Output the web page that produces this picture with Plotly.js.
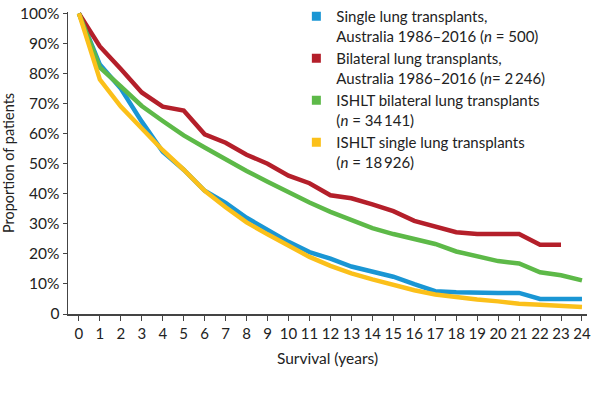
<!DOCTYPE html>
<html>
<head>
<meta charset="utf-8">
<script src="https://cdn.plot.ly/plotly-3.0.1.min.js"></script>
<style>
  html, body { margin: 0; padding: 0; background: #fff; }
  #plot { width: 600px; height: 407px; }
</style>
</head>
<body>
<div id="plot"></div>
<script>
// survival in years
var years = [0, 1, 2, 3, 4, 5, 6, 7, 8, 9, 10, 11, 12, 13, 14, 15, 16, 17, 18, 19, 20, 21, 22, 23, 24];

// proportion of patients alive, %
var single_aus = [100, 83, 75, 64, 54, 48, 41, 37, 32, 28, 24, 20.6, 18.4, 15.8, 14, 12.4, 9.9, 7.6, 7.2, 7, 7, 7, 5, 5, 5];
var bilateral_aus = [100, 89, 81.5, 73.7, 69, 67.7, 59.8, 57, 53, 50, 46, 43.5, 39.5, 38.5, 36.5, 34.2, 31, 29, 27.2, 26.6, 26.6, 26.6, 23, 23];
var ishlt_bilateral = [100, 82, 75.7, 69.2, 64.2, 59.4, 55.4, 51.4, 47.6, 44, 40.5, 37.1, 34, 31.1, 28.6, 26.6, 24.8, 23.3, 20.8, 19.2, 17.6, 16.8, 13.9, 12.9, 11.2];
var ishlt_single = [100, 78, 69, 61.5, 54.5, 48, 41, 35.5, 30.5, 26.5, 22.6, 19, 16, 13.5, 11.5, 9.6, 7.9, 6.5, 5.6, 4.8, 4.2, 3.4, 3.1, 2.8, 2.3];

var names = [
   'Single lung transplants,<br>Australia 1986\u20132016 (<i>n</i> = 500)',
   'Bilateral lung transplants,<br>Australia 1986\u20132016 (<i>n</i>= 2\u2009246)',
   'ISHLT bilateral lung transplants<br>(<i>n</i> = 34\u2009141)',
   'ISHLT single lung transplants<br>(<i>n</i> = 18\u2009926)'
];
var colours = ['#1a96d4', '#b41f2a', '#5db948', '#fbc01a'];
var series = [single_aus, bilateral_aus, ishlt_bilateral, ishlt_single];

var fontFamily = 'Lato, "Open Sans", sans-serif';

var traces = [];
// the curves themselves
for (var i = 0; i < series.length; i++) {
   traces.push({
      x: years.slice(0, series[i].length),
      y: series[i],
      mode: 'lines',
      line: {width: 4.5, color: colours[i]},
      showlegend: false,
      hoverinfo: 'x+y'
   });
}
// legend entries with square keys
for (var j = 0; j < series.length; j++) {
   traces.push({
      name: names[j],
      x: [null],
      y: [null],
      mode: 'markers',
      marker: {symbol: 'square', size: 9, color: colours[j]},
      showlegend: true
   });
}

var layout = {
   width: 600,
   height: 407,
   // top margin is zero so the legend can sit above the plot area;
   // the y domain leaves the 12px gap instead
   margin: {l: 68, r: 13, t: 0, b: 93},
   paper_bgcolor: '#fff',
   plot_bgcolor: '#fff',
   font: {family: fontFamily, size: 15, color: '#222'},
   showlegend: true,
   legend: {
      x: 0.44,
      y: 1,
      xanchor: 'left',
      yanchor: 'top',
      valign: 'top',
      bgcolor: 'rgba(0,0,0,0)',
      font: {family: fontFamily, size: 15, color: '#222'},
      tracegroupgap: 0
   },
   xaxis: {
      range: [-0.52, 24.24],
      tickvals: years,
      ticktext: years.map(String),
      showgrid: false,
      zeroline: false,
      showline: true,
      linecolor: '#444',
      linewidth: 1.5,
      ticks: 'outside',
      ticklen: 5,
      tickcolor: '#444',
      tickwidth: 1,
      tickfont: {family: fontFamily, size: 15, color: '#222'},
      title: {text: 'Survival (years)', font: {family: fontFamily, size: 15.5, color: '#222'}, standoff: 12}
   },
   yaxis: {
      domain: [0, 0.962],
      range: [0, 100.5],
      tickvals: [0, 10, 20, 30, 40, 50, 60, 70, 80, 90, 100],
      ticktext: ['0', '10%', '20%', '30%', '40%', '50%', '60%', '70%', '80%', '90%', '100%'],
      showgrid: false,
      zeroline: false,
      showline: true,
      linecolor: '#444',
      linewidth: 1.5,
      ticks: 'outside',
      ticklen: 4,
      tickcolor: '#444',
      tickwidth: 1,
      tickfont: {family: fontFamily, size: 15.5, color: '#222'},
      title: {text: 'Proportion of patients', font: {family: fontFamily, size: 14.5, color: '#222'}, standoff: 6}
   }
};

Plotly.newPlot('plot', traces, layout, {displayModeBar: false, staticPlot: true});
</script>
</body>
</html>
